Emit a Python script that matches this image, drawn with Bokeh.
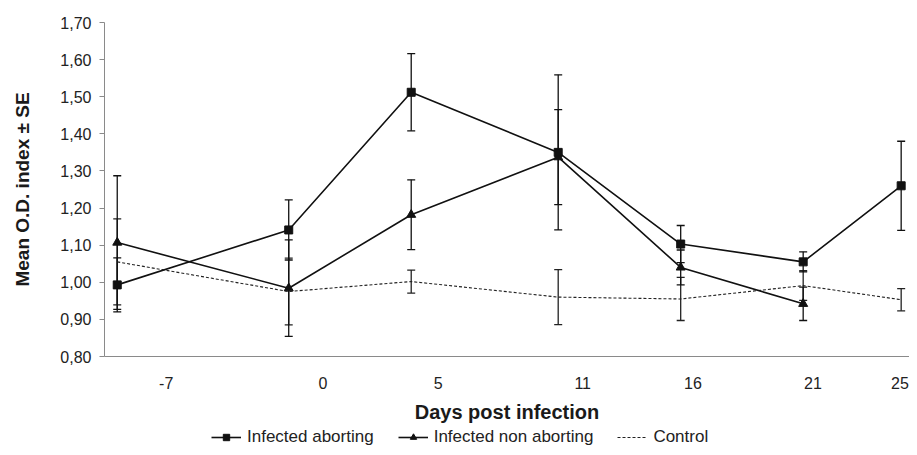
from bokeh.plotting import figure
from bokeh.layouts import column
from bokeh.models import (ColumnDataSource, Range1d, FixedTicker, Whisker, TeeHead,
                          Legend, LegendItem)
from bokeh.embed import file_html
from bokeh.resources import INLINE

# ---- data ----
days = [-7, 0, 5, 11, 16, 21, 25]
aborting = [0.993, 1.141, 1.512, 1.350, 1.103, 1.055, 1.260]
aborting_se = [0.073, 0.081, 0.104, 0.209, 0.050, 0.027, 0.120]

days_non = [-7, 0, 5, 11, 16, 21]
nonaborting = [1.107, 0.984, 1.182, 1.337, 1.040, 0.942]
nonaborting_se = [0.180, 0.130, 0.094, 0.128, 0.047, 0.045]

control = [1.055, 0.975, 1.002, 0.960, 0.955, 0.991, 0.953]
control_se = [0.116, 0.090, 0.031, 0.074, 0.058, 0.040, 0.030]

tick_labels = ["-7", "0", "5", "11", "16", "21", "25"]
y_ticks = [0.80, 0.90, 1.00, 1.10, 1.20, 1.30, 1.40, 1.50, 1.60, 1.70]

# label anchor positions along the x axis (as drawn in the original figure)
tick_label_pos = [-5.0, 1.4, 6.1, 12.0, 16.5, 21.4, 24.95]

FONT = "Liberation Sans"
W = 909


def src(x, y, se):
    return ColumnDataSource(dict(x=x, y=y,
                                 upper=[a + b for a, b in zip(y, se)],
                                 lower=[a - b for a, b in zip(y, se)]))


s_ab = src(days, aborting, aborting_se)
s_non = src(days_non, nonaborting, nonaborting_se)
s_ctl = src(days, control, control_se)

p = figure(width=W, height=428, output_backend="svg", toolbar_location=None,
           x_range=Range1d(-7.52, 25.34), y_range=Range1d(0.80, 1.70),
           min_border_left=104, min_border_right=0, min_border_top=22,
           min_border_bottom=72)
p.grid.visible = False
p.outline_line_color = None
p.background_fill_color = "white"
p.border_fill_color = "white"

# error bars
for s, col in ((s_ctl, "#222222"), (s_non, "#111111"), (s_ab, "#111111")):
    w = Whisker(base="x", upper="upper", lower="lower", source=s,
                line_color=col, line_width=1.3,
                upper_head=TeeHead(size=8, line_color=col, line_width=1.3),
                lower_head=TeeHead(size=8, line_color=col, line_width=1.3))
    p.add_layout(w)

series = [
    ("Control", s_ctl, None, dict(line_color="#222222", line_width=1.1, line_dash="3 2")),
    ("Infected non aborting", s_non, "triangle", dict(line_color="#111111", line_width=1.6)),
    ("Infected aborting", s_ab, "square", dict(line_color="#111111", line_width=1.6)),
]


def draw(fig):
    out = {}
    for name, s, marker, lstyle in series:
        rs = [fig.line("x", "y", source=s, **lstyle)]
        if marker:
            rs.append(fig.scatter("x", "y", source=s, marker=marker,
                                  size=9 if marker == "triangle" else 8,
                                  fill_color="#111111", line_color="#111111"))
        out[name] = rs
    return out


draw(p)

# axes
xa = p.xaxis[0]
xa.ticker = FixedTicker(ticks=tick_label_pos)
xa.major_label_overrides = {t: l for t, l in zip(tick_label_pos, tick_labels)}
xa.major_tick_line_color = None
xa.minor_tick_line_color = None
xa.axis_line_color = "#8a8a8a"
xa.major_label_standoff = 14
xa.major_label_text_font = FONT
xa.major_label_text_font_size = "16px"
xa.major_label_text_color = "#222222"
xa.axis_label = "Days post infection"
xa.axis_label_text_font = FONT
xa.axis_label_text_font_style = "bold"
xa.axis_label_text_font_size = "20px"
xa.axis_label_text_color = "#1a1a1a"
xa.axis_label_standoff = 9

ya = p.yaxis[0]
ya.ticker = FixedTicker(ticks=y_ticks)
ya.major_label_overrides = {t: f"{t:.2f}".replace(".", ",") for t in y_ticks}
ya.minor_tick_line_color = None
ya.major_tick_in = 0
ya.major_tick_out = 5
ya.major_tick_line_color = "#8a8a8a"
ya.axis_line_color = "#8a8a8a"
ya.major_label_standoff = 8
ya.major_label_text_font = FONT
ya.major_label_text_font_size = "16px"
ya.major_label_text_color = "#222222"
ya.axis_label = "Mean O.D. index ± SE"
ya.axis_label_text_font = FONT
ya.axis_label_text_font_style = "bold"
ya.axis_label_text_font_size = "19px"
ya.axis_label_text_color = "#1a1a1a"
ya.axis_label_standoff = 24

# legend strip underneath (its glyphs come from the same series, kept out of view)
lf = figure(width=W, height=19, output_backend="svg", toolbar_location=None,
            x_range=Range1d(1000, 1001), y_range=Range1d(1000, 1001),
            x_axis_type=None, y_axis_type=None, min_border=0)
lf.grid.visible = False
lf.outline_line_color = None
lr = draw(lf)
legend = Legend(items=[
    LegendItem(label="Infected aborting", renderers=lr["Infected aborting"]),
    LegendItem(label="Infected non aborting", renderers=lr["Infected non aborting"]),
    LegendItem(label="Control", renderers=lr["Control"]),
], orientation="horizontal", location=(107, 0),
    label_text_font=FONT, label_text_font_size="17px",
    label_text_color="#222222", glyph_width=30, glyph_height=16,
    label_height=16, label_standoff=6, spacing=24, padding=0, margin=0,
    border_line_color=None, background_fill_alpha=0)
lf.add_layout(legend, "center")

open("out.html", "w").write(file_html(column(p, lf, spacing=0), INLINE))
